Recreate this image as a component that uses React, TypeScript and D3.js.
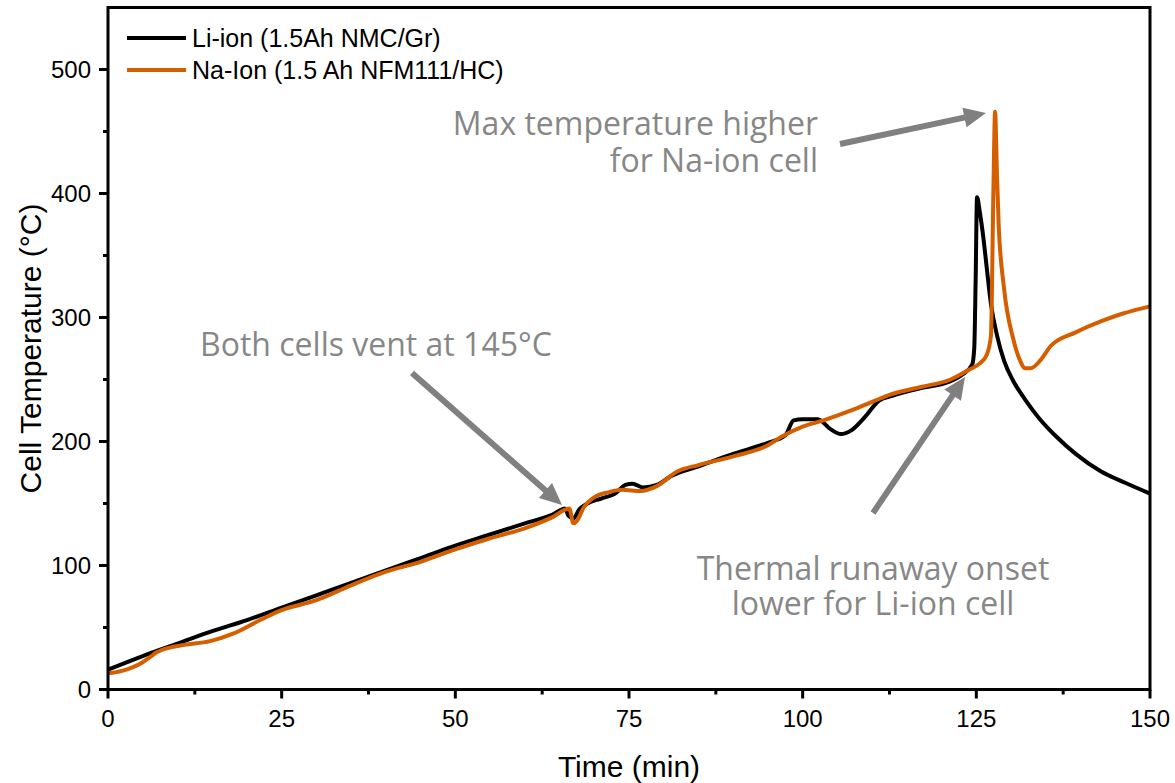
import React from "react";
import * as d3 from "d3";

const liIon: [number, number][] = [
  [0, 16], [5, 27], [10, 37], [15, 47], [20, 56], [25, 66], [30, 76], [35, 86], [40, 96], [45, 106],
  [50, 116], [55, 125], [60, 134], [64, 141], [65.8, 146], [66.3, 140], [67, 138], [67.8, 145],
  [69, 150], [71, 154], [73, 158], [74.5, 165], [75.5, 166], [77, 163], [79, 165], [81, 172],
  [85, 180], [90, 190], [95, 199], [97.5, 205], [98.7, 217], [100, 218], [102.2, 218], [104, 210],
  [105.5, 206], [107, 209], [109, 220], [111, 233], [113, 237], [117, 243], [121, 248], [123, 254],
  [124.4, 262], [124.7, 275], [124.9, 330], [125.1, 397], [125.5, 385], [126, 365], [126.5, 340],
  [127.1, 311], [128, 285], [129, 265], [130.3, 249], [132, 234], [134, 219], [136.5, 204],
  [139.3, 190], [142.9, 176], [146.5, 166.5], [150, 158],
];

const naIon: [number, number][] = [
  [0, 13], [2, 15], [3.6, 18], [5, 22], [6, 26], [7, 30], [9, 34], [11, 36], [14.7, 39], [18, 45],
  [21.9, 56], [25, 64], [30, 72], [35, 84], [40, 95], [45, 103], [50, 113], [55, 122], [60, 130],
  [64, 139], [66.4, 146], [67, 134], [67.5, 136], [68.5, 147], [70, 155], [72, 159], [74, 161],
  [76.7, 160], [79, 164], [82, 176], [85, 181], [90, 188], [95, 197], [97, 204], [100, 212],
  [103, 217], [106.5, 224], [110, 232], [112.7, 238], [117, 244], [121.3, 250], [124, 258],
  [125.5, 263], [126.5, 270], [127.1, 285], [127.45, 400], [127.7, 466], [127.95, 420], [128.2, 377],
  [129, 323], [130.3, 283], [131.4, 264], [132, 259], [132.8, 259], [134.3, 266], [135.7, 277],
  [139.3, 288], [143, 297], [146, 303], [150, 309],
];

const xMajor = [0, 25, 50, 75, 100, 125, 150];
const xMinor = [12.5, 37.5, 62.5, 87.5, 112.5, 137.5];
const yMajor = [0, 100, 200, 300, 400, 500];
const yMinor = [50, 150, 250, 350, 450];

const seriesNames = ["Li-ion (1.5Ah NMC/Gr)", "Na-Ion (1.5 Ah NFM111/HC)"];
const seriesColors = ["#000000", "#D55E00"];

const W = 1175, H = 783;
const x = d3.scaleLinear().domain([0, 150]).range([108, 1150]);
const y = d3.scaleLinear().domain([0, 550]).range([689.5, 7.5]);

const line = d3
  .line<[number, number]>()
  .x((d) => x(d[0]))
  .y((d) => y(d[1]))
  .curve(d3.curveMonotoneX);

function Arrow({ x1, y1, x2, y2 }: { x1: number; y1: number; x2: number; y2: number }) {
  const dx = x2 - x1, dy = y2 - y1;
  const len = Math.hypot(dx, dy);
  const ux = dx / len, uy = dy / len;
  const hl = 22, hw = 10;
  const bx = x2 - ux * hl, by = y2 - uy * hl;
  const px = -uy, py = ux;
  return (
    <g>
      <line x1={x1} y1={y1} x2={bx + ux * 2} y2={by + uy * 2} stroke="#808080" strokeWidth={6} />
      <polygon
        points={`${x2},${y2} ${bx + px * hw},${by + py * hw} ${bx - px * hw},${by - py * hw}`}
        fill="#808080"
      />
    </g>
  );
}

export default function App() {
  const axisFont = "Liberation Sans, Arial, sans-serif";
  const annFont = "'Open Sans', sans-serif";
  const annColor = "#878787";
  const annSize = 32;
  return (
    <svg width={W} height={H} style={{ position: "absolute", left: 0, top: 0, background: "#fff" }}>
      <rect x={0} y={0} width={W} height={H} fill="#fff" />
      {/* series */}
      <path d={line(liIon) || ""} fill="none" stroke={seriesColors[0]} strokeWidth={4} strokeLinejoin="round" />
      <path d={line(naIon) || ""} fill="none" stroke={seriesColors[1]} strokeWidth={4} strokeLinejoin="round" />
      {/* frame */}
      <rect x={x(0)} y={y(550)} width={x(150) - x(0)} height={y(0) - y(550)} fill="none" stroke="#000" strokeWidth={3} />
      {/* x ticks */}
      {xMajor.map((t) => (
        <g key={"xm" + t}>
          <line x1={x(t)} x2={x(t)} y1={y(0)} y2={y(0) + 9} stroke="#000" strokeWidth={3} />
          <text x={x(t)} y={727} textAnchor="middle" fontFamily={axisFont} fontSize={24}>
            {t}
          </text>
        </g>
      ))}
      {xMinor.map((t) => (
        <line key={"xn" + t} x1={x(t)} x2={x(t)} y1={y(0)} y2={y(0) + 5} stroke="#000" strokeWidth={3} />
      ))}
      {/* y ticks */}
      {yMajor.map((v) => (
        <g key={"ym" + v}>
          <line x1={x(0) - 9} x2={x(0)} y1={y(v)} y2={y(v)} stroke="#000" strokeWidth={3} />
          <text x={91} y={y(v) + 8.5} textAnchor="end" fontFamily={axisFont} fontSize={24}>
            {v}
          </text>
        </g>
      ))}
      {yMinor.map((v) => (
        <line key={"yn" + v} x1={x(0) - 5} x2={x(0)} y1={y(v)} y2={y(v)} stroke="#000" strokeWidth={3} />
      ))}
      {/* axis titles */}
      <text x={629} y={777} textAnchor="middle" fontFamily={axisFont} fontSize={30}>
        Time (min)
      </text>
      <text
        transform={`translate(41,${(y(0) + y(550)) / 2}) rotate(-90)`}
        textAnchor="middle"
        fontFamily={axisFont}
        fontSize={30}
      >
        Cell Temperature (°C)
      </text>
      {/* legend */}
      {seriesNames.map((n, i) => (
        <g key={n}>
          <line x1={127} x2={186} y1={38 + i * 32} y2={38 + i * 32} stroke={seriesColors[i]} strokeWidth={4} />
          <text x={192} y={38 + i * 32 + 8.5} fontFamily={axisFont} fontSize={25}>
            {n}
          </text>
        </g>
      ))}
      {/* annotations */}
      <text x={818} y={135} fontFamily={annFont} fontSize={annSize} fill={annColor} textAnchor="end">
        Max temperature higher
      </text>
      <text x={818} y={172} fontFamily={annFont} fontSize={annSize} fill={annColor} textAnchor="end">
        for Na-ion cell
      </text>
      <Arrow x1={840} y1={144} x2={986} y2={113} />
      <text x={200} y={356} fontFamily={annFont} fontSize={annSize} fill={annColor}>
        Both cells vent at 145°C
      </text>
      <Arrow x1={412} y1={373} x2={562} y2={505} />
      <text x={873} y={580} fontFamily={annFont} fontSize={annSize} fill={annColor} textAnchor="middle">
        Thermal runaway onset
      </text>
      <text x={873} y={615} fontFamily={annFont} fontSize={annSize} fill={annColor} textAnchor="middle">
        lower for Li-ion cell
      </text>
      <Arrow x1={873} y1={513} x2={965} y2={377} />
    </svg>
  );
}
